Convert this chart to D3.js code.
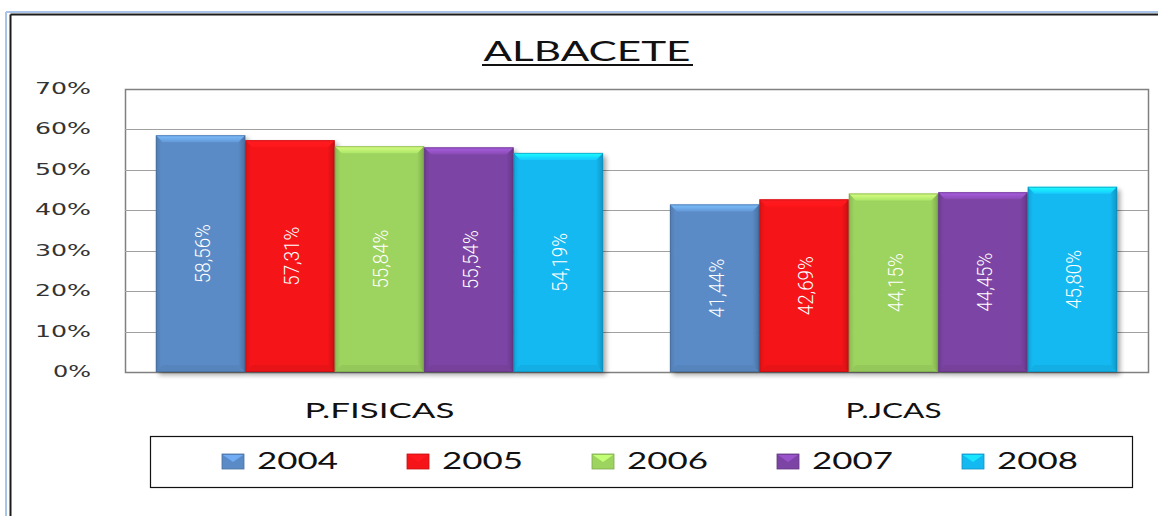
<!DOCTYPE html>
<html>
<head>
<meta charset="utf-8">
<script src="https://cdn.jsdelivr.net/npm/d3@7"></script>
<style>
  html, body { margin: 0; padding: 0; background: #fff; }
  svg { display: block; }
</style>
</head>
<body>
<div id="chart"></div>
<script>
// data
const categories = ["P.FISICAS", "P.JCAS"];
const years = ["2004", "2005", "2006", "2007", "2008"];
const values2004 = [58.56, 41.44];
const values2005 = [57.31, 42.69];
const values2006 = [55.84, 44.15];
const values2007 = [55.54, 44.45];
const values2008 = [54.19, 45.80];
const yTicks = [0, 10, 20, 30, 40, 50, 60, 70];
const colors = ["#5b8bc6", "#f51418", "#9dd35f", "#7c44a4", "#14b9f1"];

const series = [values2004, values2005, values2006, values2007, values2008];

const width = 1158, height = 516;
const plot = { left: 125, top: 89, right: 1148, bottom: 372 };

const svg = d3.select("#chart").append("svg")
    .attr("width", width)
    .attr("height", height);

const defs = svg.append("defs");

// soft shadow on the right of each bar
const shadow = defs.append("filter").attr("id", "shadow")
    .attr("x", "-20%").attr("y", "-10%").attr("width", "150%").attr("height", "130%");
shadow.append("feGaussianBlur").attr("in", "SourceAlpha").attr("stdDeviation", 2.5);

// gradients for each colour (darker at the sides)
colors.forEach((c, i) => {
    const g = defs.append("linearGradient").attr("id", "grad" + i)
        .attr("x1", "0%").attr("x2", "100%").attr("y1", "0%").attr("y2", "0%");
    g.append("stop").attr("offset", "0%").attr("stop-color", d3.color(c).darker(0.35));
    g.append("stop").attr("offset", "6%").attr("stop-color", c);
    g.append("stop").attr("offset", "92%").attr("stop-color", c);
    g.append("stop").attr("offset", "100%").attr("stop-color", d3.color(c).darker(0.6));
    // top bevel, light to colour
    const t = defs.append("linearGradient").attr("id", "bevel" + i)
        .attr("x1", "0%").attr("x2", "0%").attr("y1", "0%").attr("y2", "100%");
    t.append("stop").attr("offset", "0%").attr("stop-color", d3.color(c).brighter(0.9));
    t.append("stop").attr("offset", "100%").attr("stop-color", d3.color(c).brighter(0.25));
});

// window frame
svg.append("line").attr("x1", 6).attr("y1", 12).attr("x2", width).attr("y2", 12)
    .attr("stroke", "#a8c4e8").attr("stroke-width", 2);
svg.append("line").attr("x1", 6).attr("y1", 12).attr("x2", 6).attr("y2", height)
    .attr("stroke", "#a8c4e8").attr("stroke-width", 2);
svg.append("line").attr("x1", 10.5).attr("y1", 14.5).attr("x2", width).attr("y2", 14.5)
    .attr("stroke", "#1a1a1a").attr("stroke-width", 2);
svg.append("line").attr("x1", 10.5).attr("y1", 14.5).attr("x2", 10.5).attr("y2", height)
    .attr("stroke", "#1a1a1a").attr("stroke-width", 2);

// scales
const y = d3.scaleLinear().domain([0, 70]).range([plot.bottom, plot.top]);
const x0 = d3.scaleBand().domain(categories)
    .range([plot.left, plot.right])
    .paddingInner(0.13).paddingOuter(0.06);
const x1 = d3.scaleBand().domain(years).range([0, x0.bandwidth()]);

// plot area and grid
svg.append("rect")
    .attr("x", plot.left + 0.5).attr("y", plot.top + 0.5)
    .attr("width", plot.right - plot.left).attr("height", plot.bottom - plot.top)
    .attr("fill", "#fff").attr("stroke", "#808080").attr("stroke-width", 1.5);

svg.append("g").selectAll("line")
    .data(yTicks.slice(1, -1))
    .join("line")
    .attr("x1", plot.left).attr("x2", plot.right)
    .attr("y1", d => Math.round(y(d)) + 0.5).attr("y2", d => Math.round(y(d)) + 0.5)
    .attr("stroke", "#a0a0a0").attr("stroke-width", 1.2);

// y labels
svg.append("g").selectAll("text")
    .data(yTicks)
    .join("text")
    .attr("x", 91)
    .attr("y", d => y(d) + 5)
    .attr("text-anchor", "end")
    .attr("font-family", "'DejaVu Sans', Verdana, sans-serif")
    .attr("font-size", 16)
    .attr("fill", "#333")
    .attr("textLength", d => d === 0 ? 38 : 56)
    .attr("lengthAdjust", "spacingAndGlyphs")
    .text(d => d + "%");

// bars
const bars = [];
categories.forEach((cat, ci) => {
    years.forEach((yr, si) => {
        bars.push({ cat: cat, year: yr, si: si, value: series[si][ci] });
    });
});

const bevel = 7;
const barG = svg.append("g").selectAll("g")
    .data(bars)
    .join("g")
    .attr("transform", d => `translate(${x0(d.cat) + x1(d.year)},0)`);

const bw = x1.bandwidth();

barG.append("rect")
    .attr("x", 3).attr("y", d => y(d.value) + 3)
    .attr("width", bw).attr("height", d => plot.bottom - y(d.value))
    .attr("fill", "#000").attr("opacity", 0.35)
    .attr("filter", "url(#shadow)");

barG.append("rect")
    .attr("x", 0).attr("y", d => y(d.value))
    .attr("width", bw).attr("height", d => plot.bottom - y(d.value))
    .attr("fill", d => `url(#grad${d.si})`);

// top bevel
barG.append("polygon")
    .attr("points", d => {
        const t = y(d.value);
        return [[0, t], [bw, t], [bw - bevel, t + bevel], [bevel, t + bevel]].join(" ");
    })
    .attr("fill", d => `url(#bevel${d.si})`);
// bottom bevel
barG.append("polygon")
    .attr("points", () => {
        const b = plot.bottom;
        return [[0, b], [bw, b], [bw - bevel, b - bevel], [bevel, b - bevel]].join(" ");
    })
    .attr("fill", d => d3.color(colors[d.si]).darker(0.15));

barG.append("rect")
    .attr("x", 0.5).attr("y", d => y(d.value) + 0.5)
    .attr("width", bw - 1).attr("height", d => plot.bottom - y(d.value) - 1)
    .attr("fill", "none")
    .attr("stroke", d => d3.color(colors[d.si]).darker(0.8))
    .attr("stroke-opacity", 0.6);

// value labels
const fmt = d3.format(".2f");
barG.append("text")
    .attr("transform", d => `translate(${bw / 2 + 2},${(y(d.value) + plot.bottom) / 2}) rotate(-90)`)
    .attr("text-anchor", "middle")
    .attr("dominant-baseline", "central")
    .attr("font-family", "Roboto, 'Liberation Sans', sans-serif")
    .attr("font-weight", 300)
    .attr("font-size", 21)
    .attr("fill", "#fff")
    .attr("textLength", 59)
    .attr("lengthAdjust", "spacingAndGlyphs")
    .text(d => fmt(d.value).replace(".", ",") + "%");

// category labels
svg.append("g").selectAll("text")
    .data(categories)
    .join("text")
    .attr("x", d => x0(d) + x0.bandwidth() / 2)
    .attr("y", 418)
    .attr("text-anchor", "middle")
    .attr("font-family", "Lato, 'Open Sans', sans-serif")
    .attr("font-size", 21)
    .attr("fill", "#111")
    .attr("textLength", d => d === "P.FISICAS" ? 150 : 96)
    .attr("lengthAdjust", "spacingAndGlyphs")
    .text(d => d);

// title
svg.append("text")
    .attr("x", 587).attr("y", 61)
    .attr("text-anchor", "middle")
    .attr("font-family", "Lato, 'Open Sans', sans-serif")
    .attr("font-size", 27)
    .attr("fill", "#111")
    .attr("textLength", 207)
    .attr("lengthAdjust", "spacingAndGlyphs")
    .text("ALBACETE");
svg.append("line")
    .attr("x1", 482).attr("x2", 693).attr("y1", 65).attr("y2", 65)
    .attr("stroke", "#111").attr("stroke-width", 2);

// legend
svg.append("rect")
    .attr("x", 150.5).attr("y", 436.5).attr("width", 982).attr("height", 51)
    .attr("fill", "#fff").attr("stroke", "#111").attr("stroke-width", 1.2);

const lx = d3.scalePoint().domain(years).range([222, 962]);
const leg = svg.append("g").selectAll("g")
    .data(years)
    .join("g")
    .attr("transform", d => `translate(${lx(d)},454)`);

leg.append("rect")
    .attr("width", 22).attr("height", 15)
    .attr("fill", (d, i) => colors[i])
    .attr("stroke", (d, i) => d3.color(colors[i]).darker(0.6)).attr("stroke-width", 0.8);
leg.append("polygon")
    .attr("points", "1,1 21,1 11,8")
    .attr("fill", (d, i) => d3.color(colors[i]).brighter(0.6));

leg.append("text")
    .attr("x", 35).attr("y", 15)
    .attr("font-family", "Lato, 'Open Sans', sans-serif")
    .attr("font-size", 23)
    .attr("fill", "#111")
    .attr("textLength", 81)
    .attr("lengthAdjust", "spacingAndGlyphs")
    .text(d => d);
</script>
</body>
</html>
